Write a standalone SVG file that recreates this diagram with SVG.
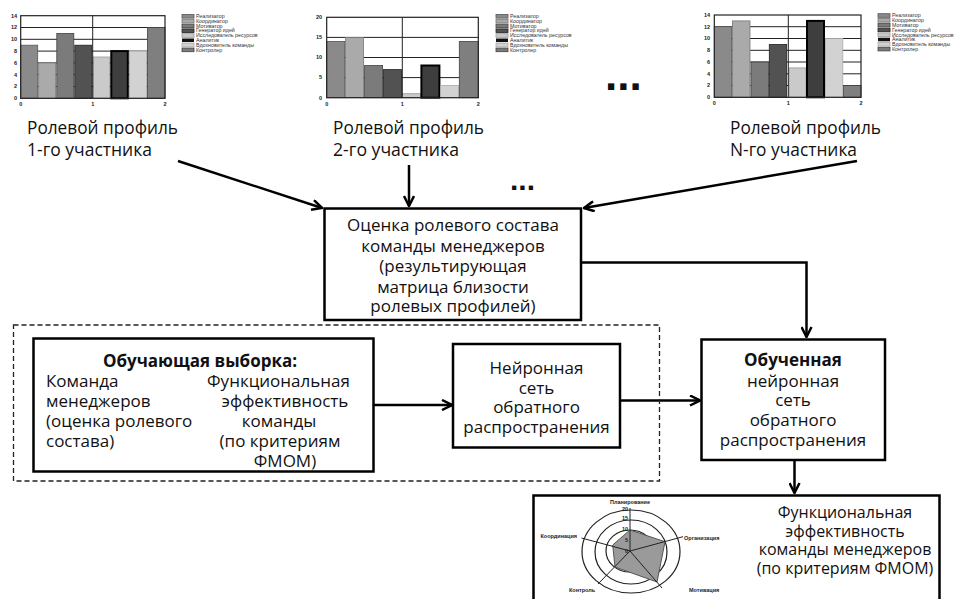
<svg xmlns="http://www.w3.org/2000/svg" width="954" height="599" viewBox="0 0 954 599">
<style>
.box{fill:#fff;stroke:#000;stroke-width:2.5}
.t{font-family:"Open Sans","Liberation Sans",sans-serif;font-size:17px;fill:#111;text-anchor:middle}
.tl{font-family:"Open Sans","Liberation Sans",sans-serif;font-size:17px;fill:#111}
.b{font-weight:bold}
.lab{font-family:"Open Sans","Liberation Sans",sans-serif;font-size:18px;fill:#111}
.con{fill:none;stroke:#000;stroke-width:2.5}
.grid{stroke:#222;stroke-width:1}
.frame{fill:none;stroke:#222;stroke-width:1.2}
.ax{font-family:"Liberation Sans",sans-serif;font-size:5.5px;font-weight:bold;fill:#222}
.lg{font-family:"Liberation Sans",sans-serif;font-size:5.3px;fill:#333}
.c1{fill:#8a8a8a;stroke:#555;stroke-width:.8}
.c2{fill:#aaaaaa;stroke:#777;stroke-width:.8}
.c3{fill:#7b7b7b;stroke:#444;stroke-width:.8}
.c4{fill:#525252;stroke:#222;stroke-width:.8}
.c5{fill:#cacaca;stroke:#999;stroke-width:.8}
.c6{fill:#3e3e3e;stroke:#000;stroke-width:2}
.c7{fill:#d2d2d2;stroke:#aaa;stroke-width:.8}
.c8{fill:#7f7f7f;stroke:#444;stroke-width:.8}
.rl{font-family:"Liberation Sans",sans-serif;font-size:5.5px;font-weight:bold;fill:#222}
.rc{fill:none;stroke:#222;stroke-width:1.2}
.bt{font-family:"Open Sans","Liberation Sans",sans-serif;font-size:16px;fill:#111;text-anchor:middle}
</style>
<defs>
<marker id="ah" viewBox="0 0 12 12" refX="11" refY="6" markerWidth="12" markerHeight="12" markerUnits="userSpaceOnUse" orient="auto">
<path d="M1,1 L11,6 L1,11" fill="none" stroke="#000" stroke-width="2.5"/>
</marker>
<g id="legend">
<rect x="0" y="-1.8" width="12" height="3.6" class="c1"/><text x="14" y="1.8" class="lg">Реализатор</text>
<rect x="0" y="3" width="12" height="3.6" class="c2"/><text x="14" y="6.6" class="lg">Координатор</text>
<rect x="0" y="7.8" width="12" height="3.6" class="c3"/><text x="14" y="11.4" class="lg">Мотиватор</text>
<rect x="0" y="12.6" width="12" height="3.6" class="c4"/><text x="14" y="16.2" class="lg">Генератор идей</text>
<rect x="0" y="17.4" width="12" height="3.6" class="c5"/><text x="14" y="21" class="lg">Исследователь ресурсов</text>
<rect x="0" y="22.2" width="12" height="3.6" fill="#111"/><text x="14" y="25.8" class="lg">Аналитик</text>
<rect x="0" y="27" width="12" height="3.6" class="c7"/><text x="14" y="30.6" class="lg">Вдохновитель команды</text>
<rect x="0" y="31.8" width="12" height="3.6" class="c3"/><text x="14" y="35.4" class="lg">Контролер</text>
</g>
</defs>

<!-- Chart 1 -->
<g id="chart1">
<g class="grid">
<line x1="20.7" y1="86.5" x2="165" y2="86.5"/><line x1="20.7" y1="74.7" x2="165" y2="74.7"/>
<line x1="20.7" y1="62.9" x2="165" y2="62.9"/><line x1="20.7" y1="51.1" x2="165" y2="51.1"/>
<line x1="20.7" y1="39.3" x2="165" y2="39.3"/><line x1="20.7" y1="27.5" x2="165" y2="27.5"/>
</g>
<rect x="20.7" y="45.2" width="17" height="53.1" class="c1"/>
<rect x="38.7" y="62.9" width="17" height="35.4" class="c2"/>
<rect x="56.8" y="33.4" width="17" height="64.9" class="c3"/>
<rect x="74.8" y="45.2" width="17" height="53.1" class="c4"/>
<rect x="93.3" y="57" width="16.5" height="41.3" class="c5"/>
<rect x="111.3" y="51.1" width="16.5" height="47.2" class="c6"/>
<rect x="129.4" y="51.1" width="17" height="47.2" class="c7"/>
<rect x="147.4" y="27.5" width="17.6" height="70.8" class="c8"/>
<rect x="20.7" y="15.7" width="144.3" height="82.6" class="frame"/>
<line x1="92.7" y1="15.7" x2="92.7" y2="98.3" class="grid"/>
<g class="ax" text-anchor="end">
<text x="17" y="17.5">14</text><text x="17" y="29.3">12</text><text x="17" y="41.1">10</text><text x="17" y="52.9">8</text><text x="17" y="64.7">6</text><text x="17" y="76.5">4</text><text x="17" y="88.3">2</text><text x="17" y="100.1">0</text>
</g>
<g class="ax" text-anchor="middle"><text x="20.7" y="106">0</text><text x="92.7" y="106">1</text><text x="165" y="106">2</text></g>
<use href="#legend" x="182" y="16.3"/>
</g>

<!-- Chart 2 -->
<g id="chart2">
<g class="grid">
<line x1="326.7" y1="77.6" x2="478.3" y2="77.6"/><line x1="326.7" y1="57.5" x2="478.3" y2="57.5"/>
<line x1="326.7" y1="37.4" x2="478.3" y2="37.4"/>
</g>
<rect x="326.7" y="41.4" width="18" height="56.3" class="c1"/>
<rect x="345.6" y="37.4" width="18" height="60.3" class="c2"/>
<rect x="364.6" y="65.5" width="18" height="32.2" class="c3"/>
<rect x="383.5" y="69.6" width="18" height="28.1" class="c4"/>
<rect x="402.5" y="93.7" width="18" height="4" class="c5"/>
<rect x="421.4" y="65.5" width="18" height="32.2" class="c6"/>
<rect x="440.4" y="85.6" width="18" height="12.1" class="c7"/>
<rect x="459.3" y="41.4" width="19" height="56.3" class="c8"/>
<rect x="326.7" y="17.3" width="151.6" height="80.4" class="frame"/>
<line x1="402.3" y1="17.3" x2="402.3" y2="97.7" class="grid"/>
<g class="ax" text-anchor="end">
<text x="322" y="19.1">20</text><text x="322" y="39.2">15</text><text x="322" y="59.3">10</text><text x="322" y="79.4">5</text><text x="322" y="99.5">0</text>
</g>
<g class="ax" text-anchor="middle"><text x="326.7" y="105.5">0</text><text x="402.3" y="105.5">1</text><text x="478.3" y="105.5">2</text></g>
<use href="#legend" x="496" y="16.3"/>
</g>

<text x="605" y="90" font-family="Liberation Sans,sans-serif" font-size="44" font-weight="bold" fill="#111">...</text>

<!-- Chart 3 -->
<g id="chart3">
<g class="grid">
<line x1="714.3" y1="85.5" x2="861" y2="85.5"/><line x1="714.3" y1="73.8" x2="861" y2="73.8"/>
<line x1="714.3" y1="62" x2="861" y2="62"/><line x1="714.3" y1="50.3" x2="861" y2="50.3"/>
<line x1="714.3" y1="38.5" x2="861" y2="38.5"/><line x1="714.3" y1="26.7" x2="861" y2="26.7"/>
</g>
<rect x="714.3" y="26.7" width="17.4" height="70.6" class="c1"/>
<rect x="732.6" y="20.9" width="17.4" height="76.4" class="c2"/>
<rect x="751" y="62" width="17.4" height="35.3" class="c3"/>
<rect x="769.3" y="44.4" width="17.4" height="52.9" class="c4"/>
<rect x="789" y="67.9" width="17" height="29.4" class="c5"/>
<rect x="807" y="20.9" width="17" height="76.4" class="c6"/>
<rect x="825.4" y="38.5" width="17.4" height="58.8" class="c7"/>
<rect x="843.6" y="85.5" width="17.4" height="11.8" class="c8"/>
<rect x="714.3" y="15" width="146.7" height="82.3" class="frame"/>
<line x1="788.3" y1="15" x2="788.3" y2="97.3" class="grid"/>
<g class="ax" text-anchor="end">
<text x="710" y="16.8">14</text><text x="710" y="28.5">12</text><text x="710" y="40.3">10</text><text x="710" y="52.1">8</text><text x="710" y="63.8">6</text><text x="710" y="75.6">4</text><text x="710" y="87.3">2</text><text x="710" y="99.1">0</text>
</g>
<g class="ax" text-anchor="middle"><text x="714.3" y="105">0</text><text x="788.3" y="105">1</text><text x="861" y="105">2</text></g>
<use href="#legend" x="878" y="15.5"/>
</g>

<!-- Labels -->
<g id="label1">
<text x="27" y="134" class="lab" textLength="151" lengthAdjust="spacingAndGlyphs">Ролевой профиль</text>
<text x="27" y="156" class="lab" textLength="125" lengthAdjust="spacingAndGlyphs">1-го участника</text>
</g>
<g id="label2">
<text x="333" y="134" class="lab" textLength="151" lengthAdjust="spacingAndGlyphs">Ролевой профиль</text>
<text x="333" y="156" class="lab" textLength="126" lengthAdjust="spacingAndGlyphs">2-го участника</text>
</g>
<g id="labelN">
<text x="730" y="134" class="lab" textLength="151" lengthAdjust="spacingAndGlyphs">Ролевой профиль</text>
<text x="730" y="156" class="lab" textLength="127" lengthAdjust="spacingAndGlyphs">N-го участника</text>
</g>

<text x="510" y="190" font-family="Liberation Sans,sans-serif" font-size="30" font-weight="bold" fill="#111">...</text>

<!-- Connectors -->
<g id="connectors">
<line x1="178" y1="161" x2="322" y2="208" class="con" marker-end="url(#ah)"/>
<line x1="409" y1="165" x2="409" y2="206" class="con" marker-end="url(#ah)"/>
<line x1="857" y1="161" x2="584" y2="208" class="con" marker-end="url(#ah)"/>
<polyline points="581,262.5 806.5,262.5 806.5,337" class="con" marker-end="url(#ah)"/>
<line x1="160" y1="390" x2="192" y2="390" class="con" marker-end="url(#ah)"/>
<line x1="373" y1="405" x2="452" y2="405" class="con" marker-end="url(#ah)"/>
<line x1="620" y1="400.5" x2="700" y2="400.5" class="con" marker-end="url(#ah)"/>
<line x1="794.5" y1="460" x2="794.5" y2="493" class="con" marker-end="url(#ah)"/>
</g>

<!-- Center box -->
<g id="assessment">
<rect x="324.5" y="208.5" width="256.5" height="111.5" class="box"/>
<text class="t" x="453" y="231">Оценка ролевого состава</text>
<text class="t" x="453" y="252">команды менеджеров</text>
<text class="t" x="453" y="272">(результирующая</text>
<text class="t" x="453" y="293">матрица близости</text>
<text class="t" x="453" y="312">ролевых профилей)</text>
</g>

<!-- Dashed region -->
<rect id="training-region" x="13.5" y="325" width="646" height="156" fill="none" stroke="#222" stroke-width="1.3" stroke-dasharray="5,3"/>

<g id="training">
<rect x="33.5" y="338.5" width="340" height="133" class="box"/>
<text class="t b" x="200" y="367">Обучающая выборка:</text>
<text class="tl" x="46" y="387">Команда</text>
<text class="tl" x="46" y="407">менеджеров</text>
<text class="tl" x="46" y="427">(оценка ролевого</text>
<text class="tl" x="46" y="447">состава)</text>
<text class="t" x="278.5" y="387">Функциональная</text>
<text class="t" x="285" y="407">эффективность</text>
<text class="t" x="279" y="427">команды</text>
<text class="t" x="280" y="447">(по критериям</text>
<text class="t" x="285" y="467">ФМОМ)</text>
</g>

<g id="network">
<rect x="453" y="344" width="167" height="103.5" class="box"/>
<text class="t" x="536.5" y="374">Нейронная</text>
<text class="t" x="536.5" y="394">сеть</text>
<text class="t" x="536.5" y="413">обратного</text>
<text class="t" x="536.5" y="433">распространения</text>
</g>

<g id="trained">
<rect x="701.5" y="339.5" width="183.5" height="120.5" class="box"/>
<text class="t b" x="793" y="366">Обученная</text>
<text class="t" x="793" y="387">нейронная</text>
<text class="t" x="793" y="406">сеть</text>
<text class="t" x="793" y="426">обратного</text>
<text class="t" x="793" y="446">распространения</text>
</g>

<g id="result">
<rect x="533.5" y="495.5" width="406" height="110" class="box"/>
<g id="radar">
<ellipse cx="631" cy="551.5" rx="49" ry="41.5" class="rc"/>
<ellipse cx="631" cy="552" rx="36" ry="32" class="rc"/>
<ellipse cx="630" cy="551" rx="24" ry="21" class="rc"/>
<polygon points="630,530 665,541.7 657,582 615,567 612.7,545" fill="#9a9a9a" stroke="#555" stroke-width="1"/>
<g stroke="#222" stroke-width="1">
<line x1="630" y1="551" x2="630" y2="508"/>
<line x1="630" y1="551" x2="683" y2="536.7"/>
<line x1="630" y1="551" x2="662" y2="588"/>
<line x1="630" y1="551" x2="598" y2="584"/>
<line x1="630" y1="551" x2="581.5" y2="538"/>
</g>
<g class="rl" font-size="4.5px" text-anchor="end">
<text x="628" y="511">20</text><text x="628" y="520.3">15</text><text x="628" y="530.8">10</text><text x="628" y="541.8">5</text><text x="628" y="552.8">0</text>
</g>
<text class="rl" x="630" y="504" text-anchor="middle">Планирование</text>
<text class="rl" x="684" y="539.5">Организация</text>
<text class="rl" x="577" y="538" text-anchor="end">Координация</text>
<text class="rl" x="569" y="591.5">Контроль</text>
<text class="rl" x="689" y="591.5">Мотивация</text>
</g>
<text class="bt" x="845" y="518">Функциональная</text>
<text class="bt" x="845" y="536.5">эффективность</text>
<text class="bt" x="845" y="555">команды менеджеров</text>
<text class="bt" x="845" y="573.5">(по критериям ФМОМ)</text>
</g>
</svg>
